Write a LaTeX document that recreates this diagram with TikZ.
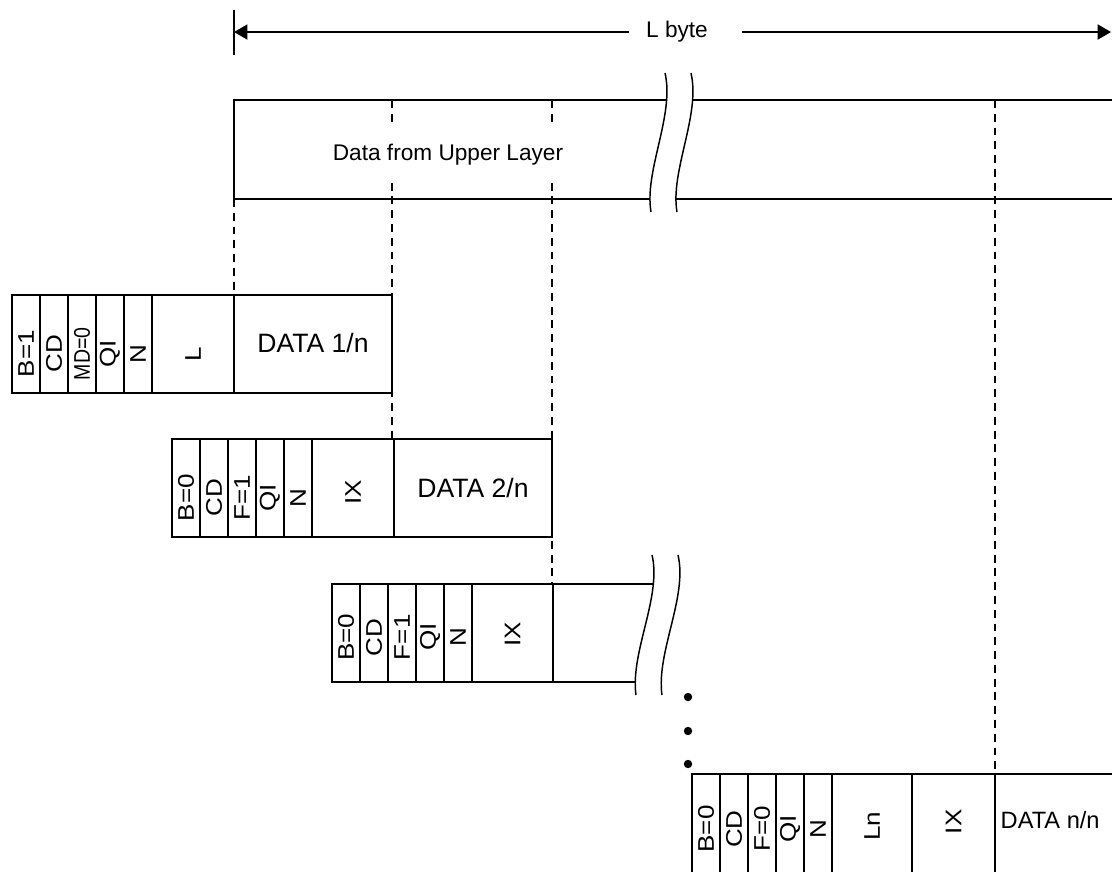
\documentclass[tikz,border=0pt]{standalone}
\usepackage{fontspec}
\setmainfont{Liberation Sans}
\usetikzlibrary{arrows.meta}

\tikzset{
  box/.style={draw},
  guide/.style={dash pattern=on 4pt off 3pt},
  hdr/.style={rotate=90, inner sep=0pt, xscale=1.15},
  txt/.style={inner sep=0pt},
  big/.style={txt, font=\fontsize{13.5}{15}\selectfont},
  tip/.style={-{Triangle[length=0.24cm,width=0.27cm]}},
}

\begin{document}
\begin{tikzpicture}[font=\fontsize{11.5}{13}\selectfont, line width=0.75pt]
  \useasboundingbox (0,0) rectangle (19.857,15.554);
  \clip (0,0) rectangle (19.857,15.554);

  % ---- L byte span ----
  \coordinate (ltick) at (4.179,14.982);
  \coordinate (rtick) at (19.84,14.982);
  \draw (4.179,15.375) -- (4.179,14.571);
  \node[txt] (lbyte) at (12.089,14.982) {L byte};
  \draw[tip] ([xshift=-0.3cm]lbyte.west) -- (ltick);
  \draw[tip] ([xshift=0.6cm]lbyte.east) -- (rtick);

  % ---- cut guides ----
  \coordinate (g1a) at (4.179,12.0);    \coordinate (g1b) at (4.179,10.286);
  \coordinate (g2a) at (7.0,13.768);    \coordinate (g2b) at (7.0,7.714);
  \coordinate (g3a) at (9.857,13.768);  \coordinate (g3b) at (9.857,5.125);
  \coordinate (g4a) at (17.768,13.768); \coordinate (g4b) at (17.768,1.732);
  \foreach \g in {1,...,4}
    \draw[guide] (g\g a) -- (g\g b);

  % ---- Data from upper layer ----
  \draw[box] (19.9,13.768) -- (4.179,13.768) -- (4.179,12.0) -- (19.9,12.0);
  \node[txt, fill=white, inner xsep=2pt, inner ysep=0.33cm] (upper) at (8.0,12.8) {Data from Upper Layer};
  \fill[white] (11.875,14.25) .. controls (12.05,13.5) and (11.5,12.5) .. (11.625,11.768)
    -- (12.089,11.768) .. controls (11.964,12.5) and (12.514,13.5) .. (12.339,14.25) -- cycle;
  \draw (11.875,14.25) .. controls (12.05,13.5) and (11.5,12.5) .. (11.625,11.768);
  \draw (12.339,14.25) .. controls (12.514,13.5) and (11.964,12.5) .. (12.089,11.768);

  % ---- first packet ----
  \begin{scope}[xshift=0.214cm, yshift=8.536cm]
    \draw[box] (0,0) rectangle (6.786,1.75);
    \foreach \x in {0.5,1,1.5,2,2.5,3.964}
      \draw (\x,0) -- (\x,1.75);
    \foreach \lab/\s [count=\i] in {B=1/1, CD/1, MD=0/0.75, QI/1, N/1}
      \node[hdr, xscale=\s] (pa\i) at (\i*0.5-0.25,0.7) {\lab};
    \node[hdr] (pal) at (3.232,0.7) {L};
    \node[big] (pad) at (5.375,0.9) {DATA 1/n};
  \end{scope}

  % ---- second packet ----
  \begin{scope}[xshift=3.071cm, yshift=5.964cm]
    \draw[box] (0,0) rectangle (6.786,1.75);
    \foreach \x in {0.5,1,1.5,2,2.5,3.964}
      \draw (\x,0) -- (\x,1.75);
    \foreach \lab [count=\i] in {B=0, CD, F=1, QI, N}
      \node[hdr] (pb\i) at (\i*0.5-0.25,0.7) {\lab};
    \node[hdr] (pbx) at (3.232,0.8) {IX};
    \node[big] (pbd) at (5.375,0.875) {DATA 2/n};
  \end{scope}

  % ---- third packet ----
  \begin{scope}[xshift=5.929cm, yshift=3.375cm]
    \draw[box] (6.5,1.75) -- (0,1.75) -- (0,0) -- (6.5,0);
    \foreach \x in {0.5,1,1.5,2,2.5,3.946}
      \draw (\x,0) -- (\x,1.75);
    \foreach \lab [count=\i] in {B=0, CD, F=1, QI, N}
      \node[hdr] (pc\i) at (\i*0.5-0.25,0.8) {\lab};
    \node[hdr] (pcx) at (3.223,0.85) {IX};
  \end{scope}
  \fill[white] (11.643,5.643) .. controls (11.82,4.9) and (11.25,3.9) .. (11.357,3.143)
    -- (12.8,3.143) -- (12.8,5.643) -- cycle;
  \draw (11.643,5.643) .. controls (11.82,4.9) and (11.25,3.9) .. (11.357,3.143);
  \draw (12.107,5.643) .. controls (12.284,4.9) and (11.714,3.9) .. (11.821,3.143);

  % ---- dots ----
  \foreach \y in {3.107,2.5,1.911}
    \fill (12.286,\y) circle (0.075);

  % ---- last packet ----
  \begin{scope}[xshift=12.357cm]
    \draw[box] (0,-0.2) -- (0,1.732) -- (7.6,1.732);
    \foreach \x in {0.5,1,1.5,2,2.5,3.929,5.411}
      \draw (\x,-0.2) -- (\x,1.732);
    \foreach \lab [count=\i] in {B=0, CD, F=0, QI, N}
      \node[hdr] (pn\i) at (\i*0.5-0.25,0.75) {\lab};
    \node[hdr] (pnl) at (3.214,0.8) {Ln};
    \node[hdr] (pnx) at (4.67,0.88) {IX};
    \node[txt, anchor=west, font=\fontsize{12}{14}\selectfont] (pnd) at (5.5,0.91) {DATA n/n};
  \end{scope}
\end{tikzpicture}
\end{document}
